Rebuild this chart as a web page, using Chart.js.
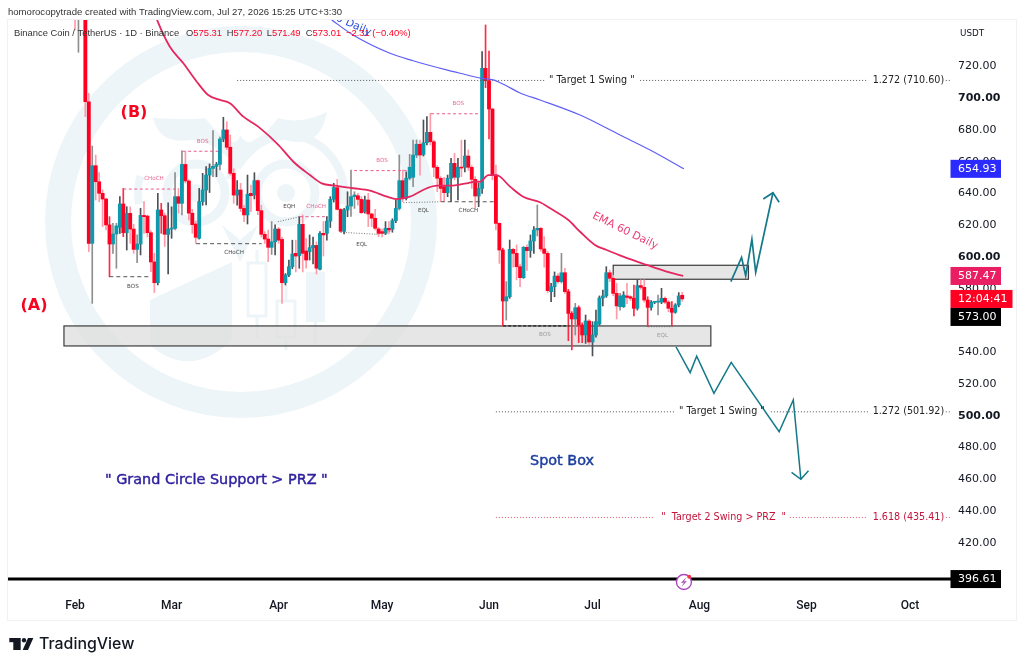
<!DOCTYPE html>
<html><head><meta charset="utf-8">
<style>html,body{margin:0;padding:0;background:#fff}canvas{display:block}</style>
<script src="https://cdn.jsdelivr.net/npm/chart.js@4"></script>
</head><body><canvas id="c" width="1024" height="668"></canvas>
<script>
// Day numbers count from 1 Feb.
const monthDays=[0,28,59,89,120,150,181,212,242];
const monthLabels=['Feb','Mar','Apr','May','Jun','Jul','Aug','Sep','Oct'];
const priceTicks=[400,420,440,460,480,500,520,540,560,580,600,620,640,660,680,700,720];
const opens=[790,775,780,770,697.2,608,656.9,646.8,639.5,635.9,
619.6,607.6,613.9,618.1,632.8,614.7,626.9,617,604.2,607.6,
625.6,625.2,614.7,596.3,583.2,629,625.4,613.7,617,617.4,
637.4,633.2,657.7,647.3,627,620.2,611.2,634.3,641.6,651,
655.2,656.5,657.7,673.7,679.4,668.5,652.1,638.4,641.6,630,
625.9,639.5,638.4,647.5,628.6,613.7,610.7,605.5,609,617,
610.5,583.2,588.1,593.3,601.7,600.2,620,603.2,602.8,605.3,
606.7,591.7,614.3,614.3,622,635.7,643.1,629.4,615.6,629,
631.5,637.4,638,635.7,628,635.3,626.5,623.8,617.1,615.4,
614.3,617.5,616.9,622.3,630,647.5,636.3,649,649.6,663.6,
670.4,664,671.4,677.9,672,655.9,649,643.7,639.9,649,
658.4,649.6,655.9,655.9,663,655.9,648.3,637.8,642.6,718.2,
710.4,692.6,651,620.6,603.8,571.7,574.4,604.2,601.7,593.3,
586.4,605.5,603.4,609.5,616.4,617.5,604.5,601.7,577.6,580.7,
587.4,583.9,589.5,577.6,563.9,560.4,567.5,556.6,550.3,559.1,
545.9,550.3,557.2,573.6,574.9,589.5,586,576.5,568.1,568.1,
574.9,574.4,573.4,567.1,581.4,580.3,572.3,567.7,570.9,571,
571,573.4,571,567.1,564.6,569.2,575.31];
const highs=[800,790,785,790,702.5,669.3,663.6,652.5,641.6,636.5,
624.8,620.6,620.6,637.4,642.6,631.1,631,620,613.3,630.1,
634.3,625.9,616,601.7,639.5,633.2,627,633.6,631,652.5,
642.6,666.2,665.7,648,629.4,622,642.6,652.1,656.3,658,
679,659,675,687.4,684.6,676.2,655,647.5,645.8,632,
651,644.7,652.5,648,632,615.4,616.4,621.7,619.6,618,
612,589,597.5,610,610,624.8,625.9,611,613.3,612,
609,615.4,621.7,624.8,637.4,645.8,648.3,630,630,640.5,
654.2,640.5,639.5,637.4,637.8,639.5,627,629.4,618,617,
621.7,621.7,623.5,635.3,663.6,654.2,653,664,673,673.1,
673,685.7,687.8,689.9,673,657,650,649.6,651,661.5,
664.7,661.5,673,673.1,666.8,657,650,645.8,728.7,745.5,
729.1,693,657.3,621,605,583.9,610.1,604.9,607,595,
605.9,607,613.3,618.5,632.2,618,612.2,603,582.8,590,
589,601.7,592.3,579,565,570.2,568.6,558,562.9,560,
558.7,566,574.9,578.6,593.3,591.2,588,582.8,576.5,577.6,
582.8,575,581.8,585,585,585,574.4,572,571.5,575.5,
579.7,574.4,572,571.3,570,577,577.2];
const lows=[742.4,728.3,760,687.8,602.8,570.2,635.3,634.3,618.5,616.4,
587,601.7,592.3,614.3,612.2,603.8,608,601.7,595.8,600.7,
614.3,612,590.2,577,581.8,614.3,606,588.7,611.2,616.4,
627,625.9,646,622.7,614.3,608,610.7,632,632.2,640,
650,650,654.2,672,667,651,633.2,632,628,621.7,
620.2,628,636,626,612,608,596.5,601,600.7,608,
570.2,581.8,587,592,590,592.3,590,592.3,597.5,595,
588.7,591.2,600,610,618,634,629,615,614,624.8,
625,630,632,626.9,627,618.5,618.5,616.4,612.2,612,
613.5,614,615,621,629,634.3,635.3,648,643.7,662,
651,663,670,670,650,640.5,634.3,634.3,637.4,634.3,
648,635.3,650,653,654,642.6,630,631.1,639.5,706,
673.7,648,616.5,595.4,556,559.7,573.4,593,585,580.7,
586,591,599.2,601.7,612.6,603,593,577,571.3,574.4,
582.8,583,576.5,546.7,540.9,550.3,545.5,545.5,545,544,
537.1,549,556.6,568.6,574,583.9,575,560.4,566,567.7,
570,572,562.3,566,579,571,555.5,566,570,562.9,
570,570,565,556,564,568,571.49];
const closes=[770,785,765,697.2,608,656.9,646.8,639.5,635.9,619.6,
607.6,613.9,619,632.8,614.7,626.9,617,604.2,607.6,625.6,
624.8,614.7,596.3,583.2,629,625.4,613.7,617,617.4,637.4,
633.2,657.7,647.3,627,619.8,611.8,634.3,641.6,651,655.2,
656.5,657.7,673.7,679.4,668.5,652.1,638.4,641.6,630,625.9,
638.9,638,647.5,628.6,613.7,610.7,605.5,609,617,610,
583.2,588.1,593.3,601.3,600,620,601.7,597.5,605.3,606.7,
592.3,614.3,613.3,622,635.7,643.1,629.4,615.6,629,631.5,
637.4,638.5,635.7,627.3,635.3,626.5,623.8,617.5,614.3,614.3,
617.5,616.4,622.3,630,647.5,636.3,649,655.9,663.6,670.4,
663.6,671.4,677.9,672,655.9,649,642.6,639.9,649,658.4,
649.6,655.9,655.4,663,655.9,648.3,637.8,642.6,718.2,710.4,
692.6,651,620.6,603.8,571.7,574.4,604.2,601.7,593.3,586.4,
605.5,603.4,609.5,616.4,617.5,604.5,601.7,578.2,580.7,587.4,
583.9,589.5,577.6,563.9,560.4,567.5,556.6,550.3,559.1,545.9,
550.3,558.7,573.6,574.9,589.5,586,576.5,568.6,574.9,575.5,
574,573.4,567.1,581.4,580.3,572.3,567.7,570.9,571.1,571.2,
573.4,571,567.1,564.6,569.2,574.9,573.01];
const grayWickDays=[1,5,11,12,18,29,31,40,42,57,80,81,94,97,98,99,134,125,141,145,158,169];
const strongWickDays=[10,14,25,119,120,124,143,144,146,147,162,166,173];
const emaDays=[23.3,24,27.5,31.4,35.3,38.6,42,44.9,48.8,53.1,59,63.3,68.1,71.5,75.4,80.7,85.5,90.4,93.2,97.1,102,104.9,108.7,113.5,116,117.4,119.8,122.2,126.1,129.9,134.8,137.7,143,146.4,150.7,154.1,158.9,165.7,171.5,176.3];
const emaValues=[752,747.6,731.8,721.4,709.8,701.4,698.3,696.2,687.8,681.5,669.9,659.4,651,645.8,644.3,642.7,641.2,637.4,635.9,637.4,642.7,644.3,644.3,645.8,646.8,646.8,651,651,643.7,637.4,633.9,630.1,622.7,615.3,607,603.8,599.6,594.4,590.2,587.47];
const ema200Days=[74.4,80.6,91.3,98,107.7,111.6,117.9,121.2,124.6,129,134.8,146.4,158,166.7,176.5];
const ema200Values=[748.7,739.2,727.7,723,717.2,715.1,711.9,710.9,707.7,702.7,698.3,688.8,676.2,666.8,654.93];
const bullArrowDays=[190.1,193.2,194.4,196.2,197.3,202.3];
const bullArrowPrices=[583.9,599.2,587.6,610.6,589.8,639.9];
const bullHeadDays=[199.5,202.3,204.1];
const bullHeadPrices=[635.9,639.9,633.9];
const bearArrowDays=[174.2,178.3,180.2,185.2,190.2,204.1,208.2,210.4];
const bearArrowPrices=[542.9,526.6,537,513.6,533.1,489.4,509.4,459.4];
const bearHeadDays=[207.7,210.4,212.6];
const bearHeadPrices=[463.8,459.4,464.8];
const lastLinePrice=396.61;
// [dayFrom, priceFrom, dayTo, priceTo, kind]
const structureLines=[
[9.94,587,21.25,587,'gray'],[14,642.2,29.9,642.2,'pink'],[31.2,666,41.5,666,'pink'],
[35.1,607.8,54.1,607.8,'gray'],[58.8,621.6,65.2,624.8,'dots'],[65.2,624.8,73.3,624.8,'pink'],
[77,615,87.4,613.7,'dots'],[87.4,613.7,92.2,616,'dots'],[80.9,653.8,96.3,653.8,'pink'],
[95.2,633.6,105.8,634.2,'dots'],[106,634.2,121.7,634.2,'gray'],[103.2,689.6,117.4,689.6,'pink'],
[124.1,556.1,143.3,556.1,'black'],[166.2,555.5,173.2,555.5,'dots']];
const structureTexts=['BOS','CHoCH','BOS','CHoCH','EQH','CHoCH','EQL','BOS','EQL','CHoCH','BOS','BOS','EQL'];
const structureTextDays=[16.8,22.9,37,46.1,62.1,69.9,83.1,89,101,114,111.1,136.2,170.3];
const structureTextPrices=[581.1,648.7,672,601.9,630.9,630.9,607.4,660.3,628.4,628.4,696.2,550.3,549.9];
const structureTextKinds=['d','p','p','d','d','p','d','p','d','d','p','g','g'];
// [dayFrom, dayTo, price]
const fibDark=[[47,136.2,710.6],[163.8,229.9,710.6],[252.4,254,710.6],[122,173.9,501.92],[201.7,229.9,501.92],[252.4,254,501.92]];
const fibRed=[[122,168.1,435.41],[207.2,229.6,435.41],[252.4,254,435.41]];
const supplyBox=[156,195.2,594.2,585.4];
const supportBox=[-3.2,184.3,556,543.4];
const priceTags=[['654.93',654.93,'#2b2bff'],['587.47',587.47,'#e91e63']];
const lastPrice=573;
const lastPriceLabel='573.00';
const countdownLabel='12:04:41';
const legendKeys=['O','H','L','C'];
const legendValues=['575.31','577.20','571.49','573.01'];

const days=opens.map((_,i)=>i);
const TEAL='#0e99ac',RED='#ff0022';
const isUp=i=>closes[i]>=opens[i];
const wickColor=i=>{
  if(grayWickDays.includes(i)) return '#8f8f8f';
  if(isUp(i)) return '#4b5157';
  return strongWickDays.includes(i)?'#ff2a45':'#ff9aa8';
};
const pathDataset=(xs,ys,color,width,dash,order)=>({type:'line',data:xs.map((x,i)=>({x,y:ys[i]})),borderColor:color,borderWidth:width,borderDash:dash||[],pointRadius:0,tension:0,order:order||1,fill:false,borderCapStyle:'butt'});
const kinds={pink:['#ee5a8c',1,[3,2.5]],gray:['#555',1,[4,3]],dots:['#666',.9,[1,1.6]],black:['#222',1.2,[3,2]]};
const smooth=d=>{d.cubicInterpolationMode='monotone';return d;};
const datasets=[
 smooth(pathDataset(emaDays,emaValues,'#e5275f',1.8,null,1)),
 smooth(pathDataset(ema200Days,ema200Values,'#5e5ef8',1.2,null,1)),
 {type:'bar',data:days.map(i=>({x:i,y:[opens[i],closes[i]]})),backgroundColor:days.map(i=>isUp(i)?TEAL:RED),barThickness:3.2,borderWidth:0,minBarLength:1,grouped:false,order:2},
 {type:'bar',data:days.map(i=>({x:i,y:[lows[i],highs[i]]})),backgroundColor:days.map(wickColor),barThickness:1,borderWidth:0,grouped:false,order:3},
 pathDataset(bullArrowDays,bullArrowPrices,'#15798a',1.7,null,0),
 pathDataset(bullHeadDays,bullHeadPrices,'#15798a',1.7,null,0),
 pathDataset(bearArrowDays,bearArrowPrices,'#15798a',1.5,null,0),
 pathDataset(bearHeadDays,bearHeadPrices,'#15798a',1.5,null,0),
 pathDataset([-25,260],[lastLinePrice,lastLinePrice],'#000',3,null,0),
];
structureLines.forEach(s=>{const k=kinds[s[4]];datasets.push(pathDataset([s[0],s[2]],[s[1],s[3]],k[0],k[1],k[2],1));});
fibDark.forEach(f=>datasets.push(pathDataset([f[0],f[1]],[f[2],f[2]],'#555',1,[1,2],1)));
fibRed.forEach(f=>datasets.push(pathDataset([f[0],f[1]],[f[2],f[2]],'#d8536b',1,[1,2],1)));

const MONO='"DejaVu Sans"';
function text(ctx,s,x,y,font,color,align){ctx.font=font;ctx.fillStyle=color;ctx.textAlign=align||'left';ctx.textBaseline='middle';ctx.fillText(s,x,y);}
function heavy(ctx,s,x,y,font,color){text(ctx,s,x,y,font,color);ctx.strokeStyle=color;ctx.lineWidth=.45;ctx.strokeText(s,x,y);}
function watermark(ctx){
  ctx.save();const W='#edf5f8';ctx.strokeStyle=W;ctx.fillStyle=W;
  const ring=(x,y,r,w)=>{ctx.lineWidth=w;ctx.beginPath();ctx.arc(x,y,r,0,Math.PI*2);ctx.stroke();};
  ring(241,222,183,26);
  ring(196,193,29,9);ring(286,193,29,9);
  ctx.beginPath();ctx.arc(196,193,9,0,7);ctx.arc(286,193,9,0,7);ctx.fill();
  ctx.lineWidth=8;ctx.beginPath();ctx.arc(286,193,58,-2.9,.2);ctx.stroke();
  ctx.beginPath();ctx.arc(196,193,58,2.95,.2+Math.PI*1.03);ctx.stroke();
  // horns and brow
  ctx.beginPath();ctx.moveTo(153,118);ctx.quadraticCurveTo(190,120,205,118);ctx.quadraticCurveTo(235,155,240,135);ctx.quadraticCurveTo(250,155,278,118);ctx.quadraticCurveTo(300,125,327,112);ctx.quadraticCurveTo(320,150,285,140);ctx.quadraticCurveTo(260,140,240,170);ctx.quadraticCurveTo(215,140,190,140);ctx.quadraticCurveTo(160,145,153,118);ctx.fill();
  // beak
  ctx.beginPath();ctx.moveTo(222,225);ctx.lineTo(240,240);ctx.lineTo(258,225);ctx.lineTo(240,262);ctx.closePath();ctx.fill();
  // body sweep
  ctx.beginPath();ctx.moveTo(150,300);ctx.lineTo(232,262);ctx.lineTo(232,340);ctx.quadraticCurveTo(190,380,150,345);ctx.closePath();ctx.fill();
  // candle motif
  ctx.lineWidth=3;
  ctx.strokeRect(248,263,18,53);ctx.beginPath();ctx.moveTo(257,250);ctx.lineTo(257,263);ctx.moveTo(257,316);ctx.lineTo(257,338);ctx.stroke();
  ctx.strokeRect(277,301,18,36);ctx.beginPath();ctx.moveTo(286,285);ctx.lineTo(286,301);ctx.moveTo(286,337);ctx.lineTo(286,350);ctx.stroke();
  ctx.fillRect(306,272,19,50);ctx.fillRect(314,322,3,22);
  ctx.restore();
}
const decor={id:'decor',
 beforeDraw(c){const x=c.ctx;x.save();x.fillStyle='#fff';x.fillRect(0,0,1024,668);x.restore();},
 beforeDatasetsDraw(c){
  const ctx=c.ctx,X=c.scales.x,Y=c.scales.y,A=c.chartArea;
  ctx.save();ctx.beginPath();ctx.rect(A.left,A.top,A.right-A.left,A.bottom-A.top);ctx.clip();
  watermark(ctx);
  [supportBox,supplyBox].forEach(b=>{
   const x0=X.getPixelForValue(b[0]),x1=X.getPixelForValue(b[1]),y0=Y.getPixelForValue(b[2]),y1=Y.getPixelForValue(b[3]);
   ctx.fillStyle='rgba(222,222,222,.75)';ctx.fillRect(x0,y0,x1-x0,y1-y0);
   ctx.strokeStyle='#3b3b3b';ctx.lineWidth=1.2;ctx.strokeRect(x0,y0,x1-x0,y1-y0);
  });
  ctx.restore();
 },
 afterDatasetsDraw(c){
  const ctx=c.ctx,X=c.scales.x,Y=c.scales.y,A=c.chartArea;
  ctx.save();
  // frame
  ctx.strokeStyle='#f0f1f4';ctx.lineWidth=1;ctx.strokeRect(7.5,19.5,1009,601);
  // structure labels
  const col={d:'#4a4a4a',p:'#ec6a94',g:'#9a9a9a'};
  structureTexts.forEach((t,i)=>text(ctx,t,X.getPixelForValue(structureTextDays[i]),Y.getPixelForValue(structureTextPrices[i]),'5.6px '+MONO,col[structureTextKinds[i]],'center'));
  // fib labels
  const fibFont='9.6px '+MONO;
  text(ctx,'" Target 1 Swing "',X.getPixelForValue(137.4),Y.getPixelForValue(710.6),fibFont,'#222');
  text(ctx,'1.272 (710.60)',X.getPixelForValue(231.2),Y.getPixelForValue(710.6),fibFont,'#222');
  text(ctx,'" Target 1 Swing "',X.getPixelForValue(175.1),Y.getPixelForValue(501.92),fibFont,'#222');
  text(ctx,'1.272 (501.92)',X.getPixelForValue(231.2),Y.getPixelForValue(501.92),fibFont,'#222');
  text(ctx,'"  Target 2 Swing > PRZ  "',X.getPixelForValue(169.9),Y.getPixelForValue(435.41),fibFont,'#c3143a');
  text(ctx,'1.618 (435.41)',X.getPixelForValue(231.2),Y.getPixelForValue(435.41),fibFont,'#c3143a');
  // free text
  text(ctx,'(A)',34,306,'bold 16px '+MONO,'#f5051f','center');
  text(ctx,'(B)',134,113,'bold 16px '+MONO,'#f5051f','center');
  heavy(ctx,'" Grand Circle Support > PRZ "',105,480,'14.4px '+MONO,'#2d1f9e');
  heavy(ctx,'Spot Box',530,461,'14.4px '+MONO,'#1d3f9f');
  ctx.save();ctx.translate(625,231);ctx.rotate(26*Math.PI/180);text(ctx,'EMA 60 Daily',0,0,'10.8px '+MONO,'#e83e74','center');ctx.restore();
  ctx.save();ctx.beginPath();ctx.rect(A.left,A.top,A.right-A.left,A.bottom-A.top);ctx.clip();
  ctx.translate(335,17);ctx.rotate(24*Math.PI/180);text(ctx,'EMA 200 Daily',0,0,'10.8px '+MONO,'#2a50d8','center');ctx.restore();
  // legend
  text(ctx,'homorocopytrade created with TradingView.com, Jul 27, 2026 15:25 UTC+3:30',8,12,'9.55px "Liberation Sans"','#333');
  const lf='9.4px "Liberation Sans"';
  text(ctx,'Binance Coin / TetherUS · 1D · Binance',14,33,lf,'#333');
  const lxs=[186,226.7,266.7,305.7];
  legendKeys.forEach((k,i)=>{
    text(ctx,k,lxs[i],33,lf,'#333');
    text(ctx,legendValues[i],lxs[i]+ctx.measureText(k).width,33,lf,'#ff0022');
  });
  text(ctx,'−2.31 (−0.40%)',346,33,lf,'#ff0022');
  text(ctx,'USDT',960,34,'8.8px '+MONO,'#131722');
  // tags
  priceTags.forEach(t=>{const y=Y.getPixelForValue(t[1]);
    ctx.fillStyle=t[2];ctx.fillRect(950.5,y-9,50.5,18);
    text(ctx,t[0],958,y,'11px '+MONO,'#fff');});
  const ry=Y.getPixelForValue(lastPrice);
  ctx.fillStyle='#ff0022';ctx.fillRect(950.5,ry-9,62,18);
  text(ctx,countdownLabel,958,ry,'11px '+MONO,'#fff');
  ctx.fillStyle='#000';ctx.fillRect(950.5,ry+9,50.5,18);
  text(ctx,lastPriceLabel,958,ry+18,'11px '+MONO,'#fff');
  const by0=Y.getPixelForValue(lastLinePrice);
  ctx.fillStyle='#000';ctx.fillRect(950.5,by0-9,50.5,18);
  text(ctx,lastLinePrice.toFixed(2),958,by0,'11px '+MONO,'#fff');
  // event badge
  const bx=X.getPixelForValue(176.5),by=582;
  ctx.fillStyle='#fff';ctx.strokeStyle='#ab47bc';ctx.lineWidth=1.4;ctx.beginPath();ctx.arc(bx,by,7.5,0,7);ctx.fill();ctx.stroke();
  ctx.fillStyle='#ab47bc';ctx.beginPath();ctx.moveTo(bx+2.5,by-5);ctx.lineTo(bx-3,by+1);ctx.lineTo(bx,by+.5);ctx.lineTo(bx-2.5,by+5);ctx.lineTo(bx+3,by-1);ctx.lineTo(bx,by-.5);ctx.closePath();ctx.fill();
  ctx.fillStyle='#f23645';ctx.beginPath();ctx.arc(bx+5.3,by-5.3,2,0,7);ctx.fill();
  // TradingView logo
  ctx.fillStyle='#131722';
  ctx.fillRect(9.3,638,11.4,4.2);ctx.fillRect(13.3,642,7.4,8);
  ctx.beginPath();ctx.arc(24,640.2,2.2,0,7);ctx.fill();
  ctx.beginPath();ctx.moveTo(28,638);ctx.lineTo(33.3,638);ctx.lineTo(28,650);ctx.lineTo(22.7,650);ctx.closePath();ctx.fill();
  text(ctx,'TradingView',39,644.5,'500 15.9px Inter','#131722');
  ctx.restore();
 }};

new Chart(document.getElementById('c'),{
 type:'bar',
 data:{datasets},
 plugins:[decor],
 options:{
  responsive:false,animation:false,events:[],
  layout:{padding:{left:8,right:8,top:20,bottom:48}},
  plugins:{legend:{display:false},tooltip:{enabled:false}},
  scales:{
   x:{type:'linear',offset:false,min:-19.42,max:254.2,
      grid:{display:false,drawTicks:false},border:{display:false},
      afterBuildTicks:s=>{s.ticks=monthDays.map(v=>({value:v}));},
      afterFit:s=>{s.height=30;},
      ticks:{autoSkip:false,maxRotation:0,padding:9,color:'#131722',font:{family:'Roboto',size:12,weight:'500'},callback:v=>monthLabels[monthDays.indexOf(v)]}},
   y:{position:'right',min:389.72,max:748.65,
      grid:{display:false,drawTicks:false},border:{display:false},
      afterBuildTicks:s=>{s.ticks=priceTicks.map(v=>({value:v}));},
      afterFit:s=>{s.width=64;},
      ticks:{autoSkip:false,padding:6,labelOffset:1,color:'#131722',font:c=>({family:'DejaVu Sans',size:11,weight:c.tick&&c.tick.value%100===0?'bold':'normal'}),callback:v=>v.toFixed(2)}}
  }
 }
});
</script></body></html>
